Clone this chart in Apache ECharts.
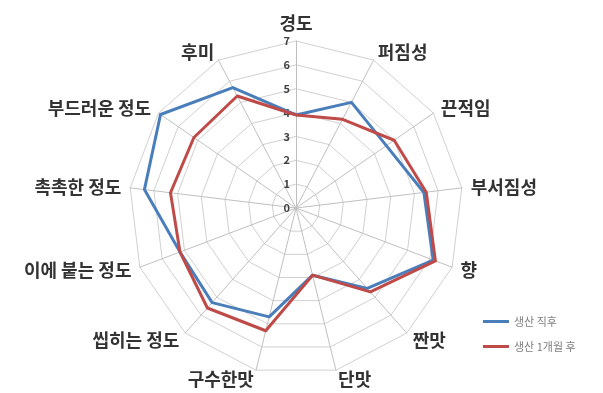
<!DOCTYPE html>
<html>
<head>
<meta charset="utf-8">
<script src="https://cdn.jsdelivr.net/npm/echarts@6/dist/echarts.min.js"></script>
<style>
  html, body { margin: 0; padding: 0; background: #fff; }
  #chart { width: 603px; height: 393px; }
</style>
</head>
<body>
<div id="chart"></div>
<script>
// Sensory attributes, listed clockwise from the top
const attributes = ['경도', '퍼짐성', '끈적임', '부서짐성', '향', '짠맛', '단맛',
  '구수한맛', '씹히는 정도', '이에 붙는 정도', '촉촉한 정도', '부드러운 정도', '후미'];

const seriesNames = ['생산 직후', '생산 1개월 후'];

// Scores in the same order as attributes
const justProduced = [3.9, 5.0, 4.6, 5.4, 6.15, 4.5, 2.9, 4.7, 5.3, 5.2, 6.4, 6.9, 5.7];
const afterOneMonth = [3.9, 4.2, 5.0, 5.5, 6.25, 4.7, 2.9, 5.3, 5.6, 5.2, 5.3, 5.2, 5.3];

const scaleMax = 7;
const scaleStep = 1;

// ECharts lays radar indicators out counter-clockwise; keep the first one on top
// and reverse the rest so the attributes run clockwise.
function clockwiseOrder(arr) {
  return [arr[0]].concat(arr.slice(1).reverse());
}

const indicators = clockwiseOrder(attributes).map((name, i) => ({
  name: name,
  min: 0,
  max: scaleMax,
  axisLabel: { show: i === 0 }
}));

const chart = echarts.init(document.getElementById('chart'));
const font = '"Noto Sans CJK KR", "Noto Sans", sans-serif';

chart.setOption({
  animation: false,
  textStyle: { fontFamily: font },
  legend: {
    orient: 'vertical',
    left: 478,
    top: 311,
    itemGap: 14,
    itemWidth: 26,
    itemHeight: 3,
    icon: 'rect',
    textStyle: { fontSize: 11, color: '#7f7f7f', fontFamily: font },
    data: seriesNames
  },
  radar: {
    center: [296, 208],
    radius: 167,
    shape: 'polygon',
    splitNumber: scaleMax / scaleStep,
    indicator: indicators,
    axisName: {
      color: '#333333',
      fontSize: 18,
      fontWeight: 'bold',
      fontFamily: font
    },
    nameGap: 9,
    axisLine: { lineStyle: { color: '#bfbfbf', width: 1 } },
    splitLine: { lineStyle: { color: '#d0d0d0', width: 1 } },
    splitArea: { show: false },
    axisTick: { show: false },
    axisLabel: {
      show: false,
      fontSize: 11,
      fontWeight: 'bold',
      color: '#404040',
      margin: 6
    }
  },
  series: [{
    type: 'radar',
    symbol: 'none',
    data: [
      {
        name: seriesNames[0],
        value: clockwiseOrder(justProduced),
        lineStyle: { color: '#4a7ebb', width: 3 },
        itemStyle: { color: '#4a7ebb' }
      },
      {
        name: seriesNames[1],
        value: clockwiseOrder(afterOneMonth),
        lineStyle: { color: '#be4b48', width: 3 },
        itemStyle: { color: '#be4b48' }
      }
    ]
  }]
});
</script>
</body>
</html>
